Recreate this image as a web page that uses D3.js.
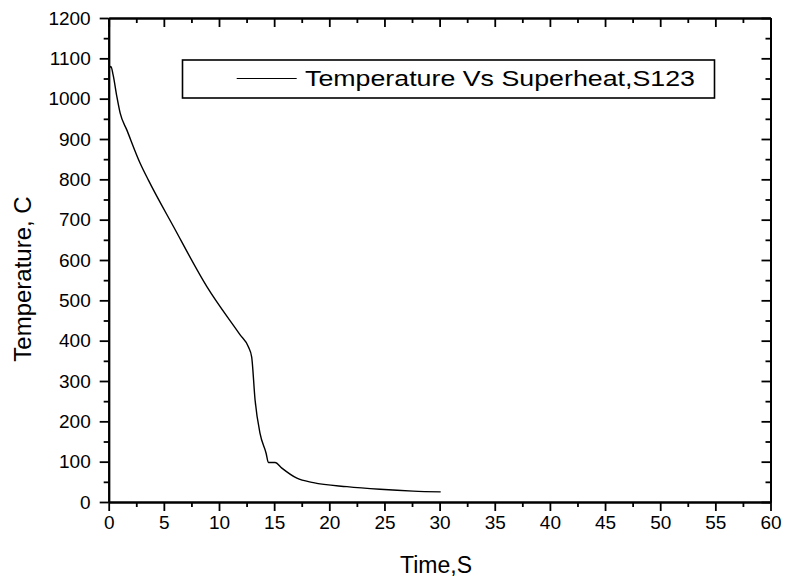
<!DOCTYPE html>
<html>
<head>
<meta charset="utf-8">
<script src="https://cdn.jsdelivr.net/npm/d3@7"></script>
<style>
  body { margin: 0; background: #fff; }
  svg { display: block; font-family: "Liberation Sans", Arial, sans-serif; }
</style>
</head>
<body>
<svg id="chart" width="785" height="585"></svg>
<script>
// values
var timeS = [0.05, 0.2, 0.4, 0.74, 1.04, 1.65, 2.85, 3.6, 5.87, 8.9, 11.9, 12.66, 12.96, 13.27, 13.72, 14.27, 14.48, 15.08, 15.7, 17.06, 18.56, 21.6, 24.6, 27.6, 30.1]
var tempC = [1075, 1080, 1059, 1005, 964, 922, 840, 798, 683, 534, 415, 385, 360, 253, 170, 121, 98, 98, 84, 59, 48, 38, 31.5, 27, 25]
var xTicks = [0, 5, 10, 15, 20, 25, 30, 35, 40, 45, 50, 55, 60]
var yTicks = [0, 100, 200, 300, 400, 500, 600, 700, 800, 900, 1000, 1100, 1200]
var seriesName = "Temperature Vs Superheat,S123"

var W = 785, H = 585
var margin = {top: 18, right: 14.5, bottom: 83, left: 108.7}
var svg = d3.select("#chart")

var x = d3.scaleLinear().domain([0, 60]).range([margin.left, W - margin.right])
var y = d3.scaleLinear().domain([0, 1200]).range([H - margin.bottom, margin.top])

var xMinor = d3.range(2.5, 60, 5)
var yMinor = d3.range(50, 1200, 100)

// each axis part gets its own group, otherwise the second call wipes the first ticks
function addAxis(axis, tx, ty) {
  return svg.append("g").attr("transform", "translate(" + tx + "," + ty + ")").call(axis)
}

// minor ticks
addAxis(d3.axisBottom(x).tickValues(xMinor).tickFormat("").tickSizeInner(5).tickSizeOuter(0), 0, y(0))
addAxis(d3.axisLeft(y).tickValues(yMinor).tickFormat("").tickSizeInner(5).tickSizeOuter(0), x(0), 0)
addAxis(d3.axisTop(x).tickValues(xMinor).tickFormat("").tickSizeInner(-5).tickSizeOuter(0), 0, y(1200))
addAxis(d3.axisRight(y).tickValues(yMinor).tickFormat("").tickSizeInner(-5).tickSizeOuter(0), x(60), 0)

// major ticks
addAxis(d3.axisBottom(x).tickValues(xTicks).tickFormat(d3.format("d")).tickSizeInner(9).tickSizeOuter(0).tickPadding(5), 0, y(0))
addAxis(d3.axisLeft(y).tickValues(yTicks).tickFormat(d3.format("d")).tickSizeInner(9).tickSizeOuter(0).tickPadding(9), x(0), 0)
addAxis(d3.axisTop(x).tickValues(xTicks).tickFormat("").tickSizeInner(-9).tickSizeOuter(0), 0, y(1200))
addAxis(d3.axisRight(y).tickValues(yTicks).tickFormat("").tickSizeInner(-9).tickSizeOuter(0), x(60), 0)

svg.selectAll(".domain").attr("stroke", "#000").attr("stroke-width", 2)
svg.selectAll(".tick line").attr("stroke", "#000").attr("stroke-width", 1.8)
svg.selectAll(".tick text")
  .attr("font-size", 19)
  .attr("font-family", "Liberation Sans, Arial, sans-serif")
  .attr("fill", "#000")

// axis titles
svg.append("text")
  .attr("x", 436).attr("y", 573)
  .attr("text-anchor", "middle")
  .attr("font-size", 23)
  .text("Time,S")

svg.append("text")
  .attr("transform", "translate(31,279) rotate(-90)")
  .attr("text-anchor", "middle")
  .attr("font-size", 24)
  .text("Temperature, C")

// curve
var line = d3.line()
  .x(function(d, i) { return x(timeS[i]) })
  .y(function(d) { return y(d) })
  .curve(d3.curveMonotoneX)

svg.append("path")
  .datum(tempC)
  .attr("d", line)
  .attr("fill", "none")
  .attr("stroke", "#000")
  .attr("stroke-width", 1.4)

// legend
var leg = svg.append("g")
leg.append("rect")
  .attr("x", 182.5).attr("y", 60)
  .attr("width", 532).attr("height", 38)
  .attr("fill", "none").attr("stroke", "#000").attr("stroke-width", 1.6)
leg.append("line")
  .attr("x1", 236.7).attr("x2", 296.7)
  .attr("y1", 78.5).attr("y2", 78.5)
  .attr("stroke", "#000").attr("stroke-width", 1.2)
leg.append("text")
  .attr("x", 305).attr("y", 85.5)
  .attr("font-size", 22)
  .attr("textLength", 390)
  .attr("lengthAdjust", "spacingAndGlyphs")
  .text(seriesName)
</script>
</body>
</html>
